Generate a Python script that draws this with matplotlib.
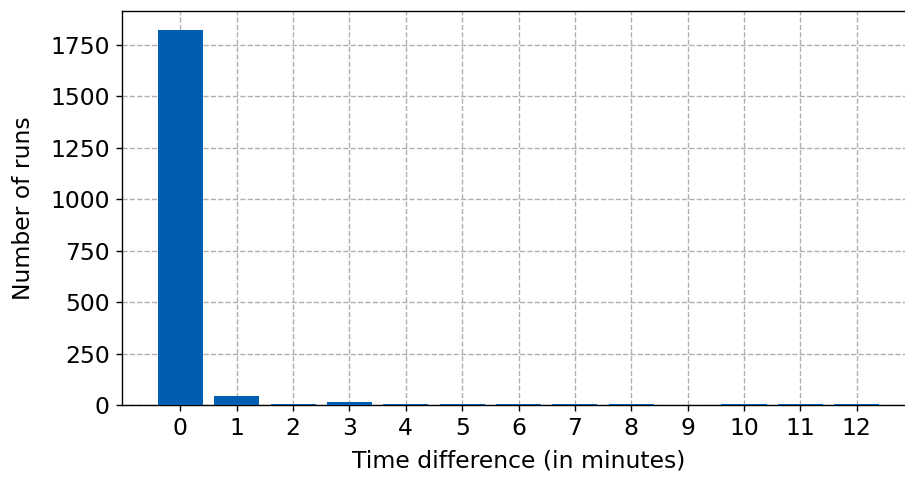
import matplotlib
matplotlib.use('Agg')
from matplotlib import pyplot as plt

minutes = list(range(13))
runs = [1823, 42, 6, 15, 6, 6, 6, 6, 6, 0, 6, 6, 6]

fig = plt.figure(figsize=(7.24, 3.84), dpi=125)
# the source image is cut off on the right, so the axes run past the edge
ax = fig.add_axes([0.1345, 0.156, 0.877, 0.821])
ax.bar(minutes, runs, width=0.8, color='#005eb0', zorder=3)
ax.set_xticks(minutes)
ax.grid(True, linestyle='--', color='#b0b0b0', linewidth=0.8, zorder=0)
ax.tick_params(labelsize=13.5)
ax.set_xlabel('Time difference (in minutes)', fontsize=13.5, labelpad=5.5)
ax.set_ylabel('Number of runs', fontsize=13.5, labelpad=8.5)
fig.savefig('out.png', dpi=125)
